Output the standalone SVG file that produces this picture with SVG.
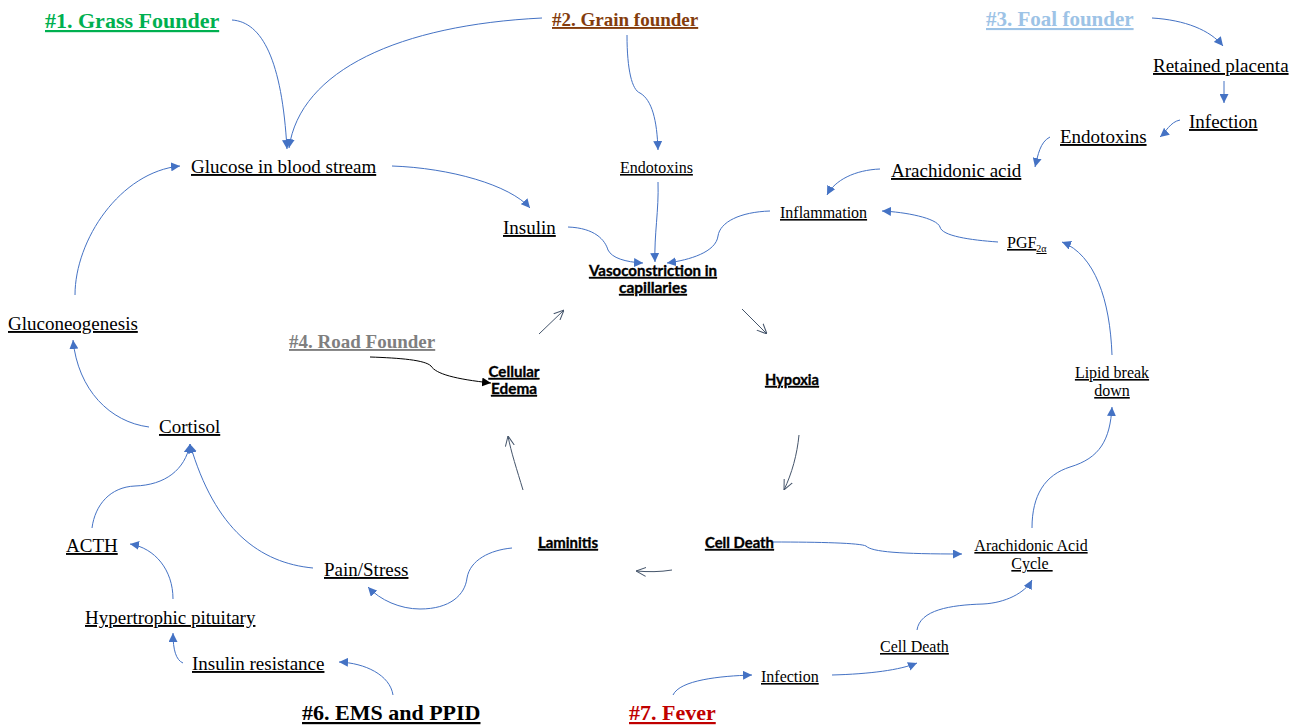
<svg xmlns="http://www.w3.org/2000/svg" width="1302" height="727" viewBox="0 0 1302 727">
<style>
text{font-family:"Liberation Serif","Times New Roman",serif;fill:#000;text-decoration:underline}
.r19{font-size:19px}
.r16{font-size:16px}
.h{font-weight:bold}
.b{font-family:Lato,"Liberation Sans",sans-serif;font-weight:bold;font-size:15.5px;stroke:#000;stroke-width:0.35}
.c{fill:none;stroke:#4472c4;stroke-width:1;marker-end:url(#ab)}
.g{fill:none;stroke:#44546a;stroke-width:1;marker-end:url(#ao)}
.k{fill:none;stroke:#000;stroke-width:1;marker-end:url(#ak)}
</style>
<defs>
<marker id="ab" viewBox="0 0 10 10" refX="10" refY="5" markerWidth="9" markerHeight="9" markerUnits="userSpaceOnUse" orient="auto"><path d="M0,0 L10,5 L0,10 z" fill="#4472c4"/></marker>
<marker id="ak" viewBox="0 0 10 10" refX="10" refY="5" markerWidth="9" markerHeight="9" markerUnits="userSpaceOnUse" orient="auto"><path d="M0,0 L10,5 L0,10 z" fill="#000"/></marker>
<marker id="ao" viewBox="0 0 10 10" refX="10" refY="5" markerWidth="10" markerHeight="10" markerUnits="userSpaceOnUse" orient="auto"><path d="M0,0.5 L10,5 L0,9.5" fill="none" stroke="#44546a" stroke-width="1"/></marker>
</defs>
<rect width="1302" height="727" fill="#fff"/>
<g id="connectors">
<path class="c" d="M232,20 C262,22 282,60 287,149"/>
<path class="c" d="M542,18 C400,25 300,70 289,148"/>
<path class="c" d="M392,166 C450,168 510,185 530,208"/>
<path class="c" d="M75,295 C75,240 120,172 180,166"/>
<path class="c" d="M627,35 C627,70 632,90 640,93 C652,100 657,120 658,150"/>
<path class="c" d="M568,227 C595,228 605,240 608,250 C612,258 625,262 643,263"/>
<path class="c" d="M658,182 C659,210 654,235 655,262"/>
<path class="c" d="M770,211 C740,212 720,222 718,236 C716,252 690,260 667,263"/>
<path class="c" d="M880,169 C855,170 835,180 827,195"/>
<path class="c" d="M1050,137 C1040,142 1038,155 1035,167"/>
<path class="c" d="M1180,120 C1170,122 1166,132 1160,137"/>
<path class="c" d="M1224,81 L1224,103"/>
<path class="c" d="M1152,18 C1185,20 1210,30 1223,46"/>
<path class="c" d="M998,242 C970,240 942,236 940,227 C937,218 905,212 882,211"/>
<path class="c" d="M1112,355 C1110,300 1095,255 1062,242"/>
<path class="c" d="M1032,528 C1032,495 1045,475 1070,467 C1100,458 1110,440 1112,407"/>
<path class="c" d="M773,542 C820,542 860,543 866,546 C872,552 900,554 962,554"/>
<path class="c" d="M832,675 C870,674 900,670 917,663"/>
<path class="c" d="M917,630 C920,610 950,605 983,604 C1005,603 1025,593 1032,580"/>
<path class="c" d="M673,695 C680,680 720,676 752,675"/>
<path class="c" d="M512,548 C490,550 470,560 467,578 C465,595 450,609 420,609 C400,609 380,600 368,587"/>
<path class="c" d="M393,695 C390,675 365,663 339,662"/>
<path class="c" d="M183,663 C176,660 173,650 173,633"/>
<path class="c" d="M173,599 C173,570 155,548 130,544"/>
<path class="c" d="M92,528 C95,505 110,487 135,486 C165,485 185,470 190,444"/>
<path class="c" d="M313,568 C260,563 215,530 190,444"/>
<path class="c" d="M149,427 C110,422 78,390 73,340"/>
<path class="g" d="M539,334 L564,310"/>
<path class="g" d="M742,309 L767,334"/>
<path class="g" d="M799,435 C797,455 792,473 784,490"/>
<path class="g" d="M672,570 C660,572 648,572 636,571"/>
<path class="g" d="M523,490 C517,470 511,452 508,436"/>
<path class="k" d="M370,357 C400,358 425,360 431,366 C436,374 455,379 491,383"/>
</g>
<g id="n1"><text class="h" x="45" y="28" font-size="22" style="fill:#00b050">#1. Grass Founder</text></g>
<g id="n2"><text class="h" x="552" y="26" font-size="19" style="fill:#843c0c">#2. Grain founder</text></g>
<g id="n3"><text class="h" x="986" y="26" font-size="21" style="fill:#9dc3e6">#3. Foal founder</text></g>
<g id="n4"><text class="h" x="289" y="348" font-size="19" style="fill:#7f7f7f">#4. Road Founder</text></g>
<g id="n6"><text class="h" x="302" y="720" font-size="22">#6. EMS and PPID</text></g>
<g id="n7"><text class="h" x="629" y="720" font-size="22" style="fill:#c00000">#7. Fever</text></g>
<g id="retained"><text class="r19" x="1153" y="72">Retained placenta</text></g>
<g id="infection1"><text class="r19" x="1189" y="128">Infection</text></g>
<g id="endotoxins1"><text class="r19" x="1060" y="143">Endotoxins</text></g>
<g id="arachidonic"><text class="r19" x="891" y="177">Arachidonic acid</text></g>
<g id="inflammation"><text class="r16" x="780" y="218">Inflammation</text></g>
<g id="pgf"><text class="r16" x="1007" y="248">PGF<tspan font-size="10" dy="4">2α</tspan></text></g>
<g id="endotoxins2"><text class="r16" x="620" y="173">Endotoxins</text></g>
<g id="glucose"><text class="r19" x="191" y="173">Glucose in blood stream</text></g>
<g id="insulin"><text class="r19" x="503" y="234">Insulin</text></g>
<g id="vaso"><text class="b" x="653" y="276" text-anchor="middle" textLength="128" lengthAdjust="spacingAndGlyphs">Vasoconstriction in</text><text class="b" x="653" y="293" text-anchor="middle" textLength="68" lengthAdjust="spacingAndGlyphs">capillaries</text></g>
<g id="gluconeo"><text class="r19" x="8" y="330">Gluconeogenesis</text></g>
<g id="edema"><text class="b" x="514" y="377" text-anchor="middle" textLength="51" lengthAdjust="spacingAndGlyphs">Cellular</text><text class="b" x="514" y="394" text-anchor="middle" textLength="46" lengthAdjust="spacingAndGlyphs">Edema</text></g>
<g id="hypoxia"><text class="b" x="765" y="385" textLength="54" lengthAdjust="spacingAndGlyphs">Hypoxia</text></g>
<g id="lipid"><text class="r16" x="1112" y="378" text-anchor="middle">Lipid break</text><text class="r16" x="1112" y="396" text-anchor="middle">down</text></g>
<g id="cortisol"><text class="r19" x="159" y="433">Cortisol</text></g>
<g id="acth"><text class="r19" x="66" y="552">ACTH</text></g>
<g id="pain"><text class="r19" x="324" y="576">Pain/Stress</text></g>
<g id="laminitis"><text class="b" x="538" y="548" textLength="60" lengthAdjust="spacingAndGlyphs">Laminitis</text></g>
<g id="celldeath1"><text class="b" x="705" y="548" textLength="69" lengthAdjust="spacingAndGlyphs">Cell Death</text></g>
<g id="aac"><text class="r16" x="1031" y="551" text-anchor="middle">Arachidonic Acid</text><text class="r16" x="1032" y="569" text-anchor="middle" style="white-space:pre">Cycle </text></g>
<g id="hyper"><text class="r19" x="85" y="624">Hypertrophic pituitary</text></g>
<g id="insres"><text class="r19" x="192" y="670">Insulin resistance</text></g>
<g id="celldeath2"><text class="r16" x="880" y="652">Cell Death</text></g>
<g id="infection2"><text class="r16" x="761" y="682">Infection</text></g>
</svg>
